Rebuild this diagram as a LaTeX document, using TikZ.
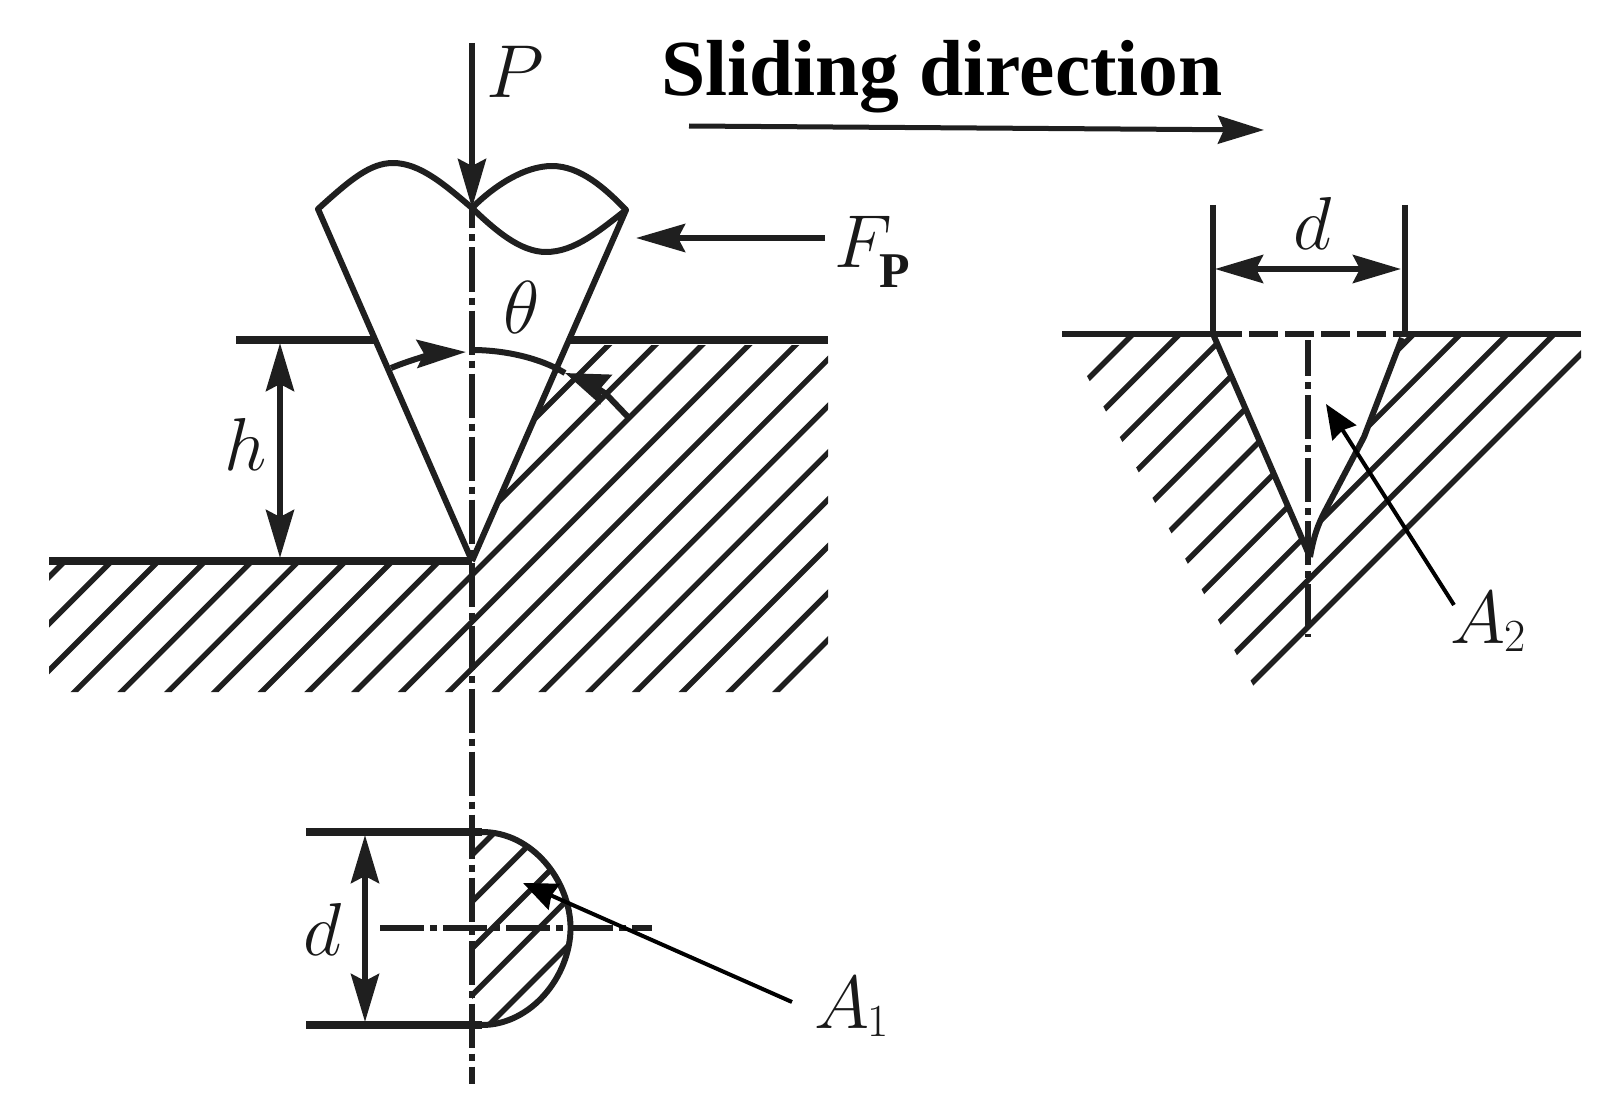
\RequirePackage{fix-cm}
\documentclass[tikz,border=0pt]{standalone}
\usepackage{fontspec}
\usepackage{tikz}
\usetikzlibrary{arrows.meta}
\newfontfamily\slidefont{Liberation Serif}
\newcommand{\bigtext}{\fontsize{75}{75}\selectfont}
\newcommand{\subtext}[1]{\raisebox{-8pt}{\fontsize{46}{46}\selectfont #1}}
\tikzset{
  label/.style={inner sep=0pt,outer sep=0pt,anchor=base west,text=black!90},
  outline/.style={line width=6pt,color=black!88,line join=round},
  surface/.style={line width=7.5pt,color=black!88},
  hatchline/.style={line width=5.4pt,color=black!88},
  centerline/.style={line width=5.4pt,color=black!88,dash pattern=on 44pt off 6pt on 7pt off 6pt},
  bigarrow/.style={line width=6pt,color=black!88,-{Stealth[length=49pt,width=28pt,inset=7pt]}},
  dimarrow/.style={line width=6pt,color=black!88,{Stealth[length=48pt,width=28pt,inset=7pt]}-{Stealth[length=48pt,width=28pt,inset=7pt]}},
  leader/.style={line width=4pt,color=black,-{Stealth[length=34pt,width=28pt,inset=3pt]}}
}
\begin{document}
\begin{tikzpicture}[x=1pt,y=-1pt]
\useasboundingbox (0,0) rectangle (1604,1102);
% left section
\begin{scope}
\clip (49,563) -- (472,563) -- (472,558) -- (566,345) -- (828,345) -- (828,692) -- (49,692) -- cycle;
\foreach \s in {626,672.78,...,1469}
  \draw[hatchline] ({\s-340},340) -- ({\s-695},695);
\end{scope}
\coordinate (topl) at (236,340);
\coordinate (topa) at (376,340);
\coordinate (topb) at (569,340);
\coordinate (topr) at (828,340);
\coordinate (lowl) at (49,561);
\coordinate (tip) at (472,561);
\draw[surface] (topl) -- (topa);
\draw[surface] (topb) -- (topr);
\draw[surface] (lowl) -- (tip);
\coordinate (conel) at (318,209);
\coordinate (coner) at (626,210);
\coordinate (conec) at (472,208);
\draw[outline] (tip) -- (conel) .. controls (350,180) and (370,163) .. (393,163) .. controls (420,163) and (445,185) .. (conec) .. controls (495,230) and (520,252) .. (546,252) .. controls (575,252) and (600,230) .. (coner) -- (tip);
\draw[outline] (conec) .. controls (495,185) and (525,166) .. (552,166) .. controls (580,166) and (605,188) .. (coner);
\coordinate (axisb) at (472,1084);
\draw[centerline,dash phase=23.5pt] (conec) -- (axisb);
\coordinate (ptop) at (472,43);
\draw[bigarrow] (ptop) -- (conec);
\node[label] (pl) at (486,98) {\bigtext$P$};
\coordinate (ftail) at (825,238);
\coordinate (ftip) at (636,238);
\draw[bigarrow] (ftail) -- (ftip);
\node[label] (fl) at (834,268) {\bigtext$F$\hspace{-12pt}\raisebox{-20pt}{\slidefont\bfseries\fontsize{50}{50}\selectfont P}};
\node[label] (thetal) at (503,333) {\bigtext$\theta$};
\coordinate (angl) at (391,368);
\coordinate (angc) at (466,352);
\coordinate (angm) at (472,350);
\coordinate (angt) at (565,373);
\coordinate (angr) at (628,417);
\draw[bigarrow] (angl) .. controls (415,358) and (440,353) .. (angc);
\draw[line width=6pt,color=black!88] (angm) .. controls (505,350) and (540,358) .. (angt);
\draw[bigarrow,-{Stealth[length=44pt,width=31pt,inset=5pt]}] (angr) -- (606,394) .. controls (595,386) and (580,379) .. (angt);
\coordinate (ha) at (280,343);
\coordinate (hb) at (280,558);
\draw[dimarrow] (ha) -- (hb);
\node[label] (hl) at (224,470) {\bigtext$h$};
% slide direction
\node[label,text=black] (slide) at (661,96) {\slidefont\bfseries\fontsize{79.5}{79.5}\selectfont Sliding direction};
\coordinate (sa) at (689,126);
\coordinate (sb) at (1264,130);
\draw[bigarrow,line width=5pt,-{Stealth[length=46pt,width=28pt,inset=6pt]}] (sa) -- (sb);
% lower section
\begin{scope}
\clip (472,832) -- (482,832) .. controls (532,832) and (570,880) .. (570.6,928) .. controls (570,978) and (530,1025) .. (482,1025) -- (472,1025) -- cycle;
\foreach \s in {1327,1373.75,...,1515}
  \draw[hatchline] ({\s-820},820) -- ({\s-1030},1030);
\end{scope}
\coordinate (ua) at (306,832);
\coordinate (ub) at (482,832);
\coordinate (la) at (306,1025);
\coordinate (lb) at (482,1025);
\draw[surface] (ua) -- (ub);
\draw[surface] (la) -- (lb);
\draw[outline] (ub) .. controls (532,832) and (570,880) .. (570.6,928) .. controls (570,978) and (530,1025) .. (lb);
\coordinate (ca) at (380,928);
\coordinate (cb) at (652,928);
\draw[centerline,line width=6.5pt] (ca) -- (cb);
\coordinate (da) at (365,835);
\coordinate (db) at (365,1022);
\draw[dimarrow] (da) -- (db);
\node[label] (dl) at (303,955) {\bigtext$d$};
\coordinate (aonetail) at (792,1002);
\coordinate (aonetip) at (523,883);
\draw[leader] (aonetail) -- (aonetip);
\node[label] (aone) at (814,1028) {\bigtext$A$\hspace{-2pt}\subtext{1}};
% right section
\begin{scope}
\clip (1066,337) -- (1214,337) -- (1310,557) -- (1324,513) -- (1364,437) -- (1401,337) -- (1581,337) -- (1581,700) -- (1261,700) -- cycle;
\foreach \s in {1467,1513.8,...,1936}
  \draw[hatchline] ({\s-330},330) -- ({\s-705},705);
\end{scope}
\coordinate (ra) at (1062,334);
\coordinate (rb) at (1213,334);
\coordinate (rc) at (1405,334);
\coordinate (rd) at (1581,334);
\draw[surface,line width=6.5pt] (ra) -- (rb);
\draw[surface,line width=6.5pt] (rc) -- (rd);
\draw[surface,line width=6.5pt,dash pattern=on 29pt off 7pt] (rb) -- (rc);
\coordinate (vtip) at (1310,557);
\coordinate (rva) at (1213,205);
\coordinate (rvb) at (1405,205);
\draw[outline] (rva) -- (rb);
\draw[outline] (rvb) -- (rc);
\draw[outline] (rb) -- (vtip);
\draw[outline] (vtip) .. controls (1314,535) and (1318,525) .. (1324,513) -- (1364,437) -- (1402,338);
\coordinate (rca) at (1308,340);
\coordinate (rcb) at (1308,637);
\draw[centerline,dash phase=8pt] (rca) -- (rcb);
\coordinate (dla) at (1215,269);
\coordinate (dlb) at (1401,269);
\draw[dimarrow] (dla) -- (dlb);
\node[label] (drl) at (1293,250) {\bigtext$d$};
\coordinate (atwotail) at (1454,605);
\coordinate (atwotip) at (1326,404);
\draw[leader] (atwotail) -- (atwotip);
\node[label] (atwo) at (1450,643) {\bigtext$A$\hspace{-1pt}\subtext{2}};
\end{tikzpicture}
\end{document}
